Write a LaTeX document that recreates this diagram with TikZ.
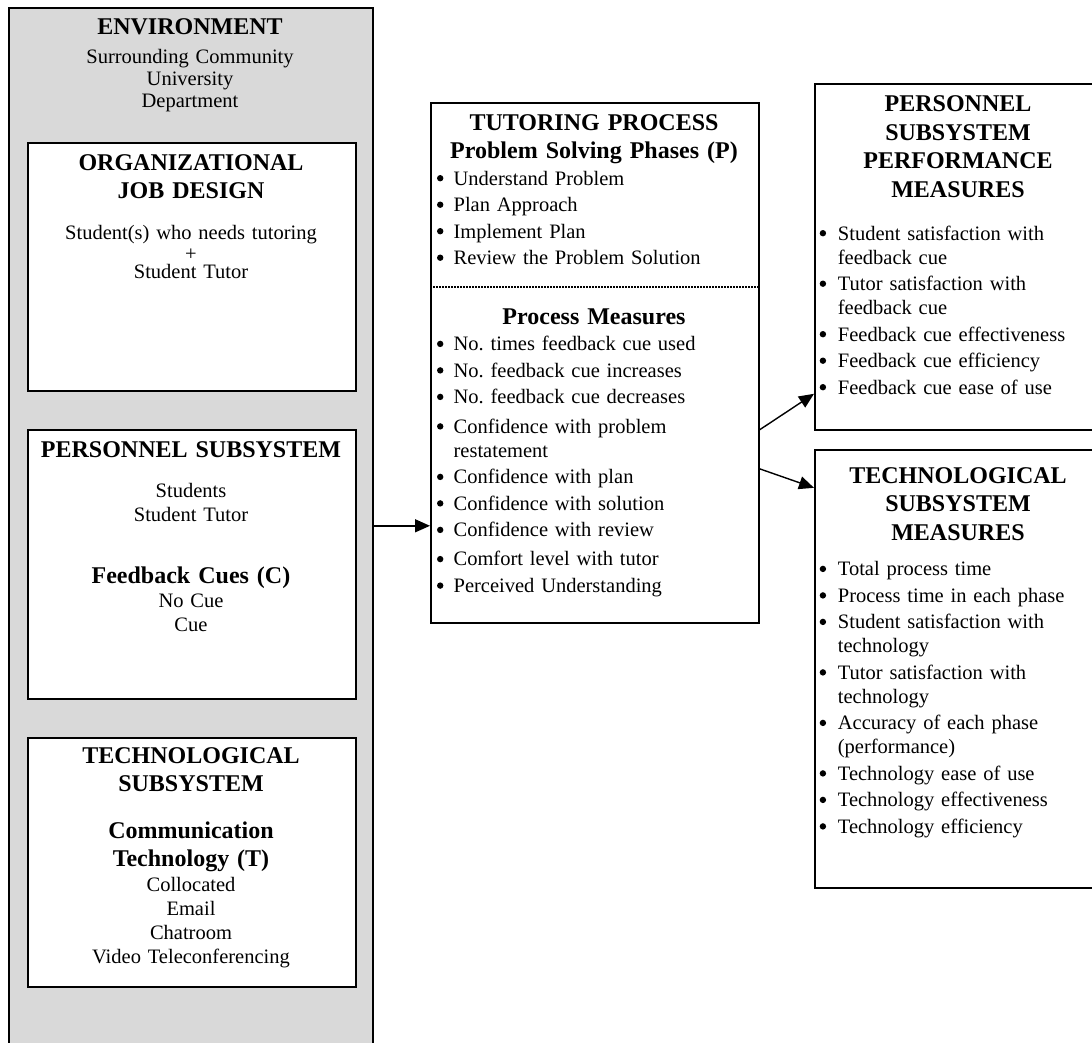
\documentclass[tikz,border=0pt]{standalone}
\usepackage{fontspec}
\setmainfont{Liberation Serif}
\usetikzlibrary{arrows.meta}

\definecolor{envgray}{RGB}{217,217,217}

% type sizes (1pt = one unit of the drawing grid)
\newcommand\bodyfont{\fontsize{20.5}{24}\selectfont}
\newcommand\envfont{\fontsize{20.5}{22}\selectfont}
\newcommand\tightfont{\fontsize{20.5}{19.5}\selectfont}
\newcommand\headfont{\fontsize{24}{28}\selectfont\bfseries}
\newcommand\tallhead{\fontsize{24}{28.6}\selectfont\bfseries}

% round bullet and bulleted item with hanging indent
\newcommand\bdot{\tikz[baseline=0pt]{\path (0pt,0pt); \fill (3.6pt,6.8pt) circle (3.2pt);}}
\newlength\bulind
\newcommand\bul[1]{\hangindent=\bulind\hangafter=1 \makebox[\bulind][l]{\bdot}#1\par}

\frenchspacing
\begin{document}
\begin{tikzpicture}[x=1pt,y=-1pt,
  panel/.style={draw, line width=1.6pt, fill=white, inner sep=0pt, anchor=north west},
  envpanel/.style={panel, fill=envgray},
  ctext/.style={anchor=base, inner sep=0pt, text width=#1, align=center},
  ctext/.default=320pt,
  blist/.style={anchor=base west, inner sep=0pt, text width=#1, align=left, font=\bodyfont},
  blist/.default=300pt,
  arr/.style={line width=1.4pt, -{Triangle[length=15pt,width=13pt]}},
  sep/.style={line width=1.5pt, dash pattern=on 1.5pt off 1.5pt}]

\useasboundingbox (0,0) rectangle (1092,1042);
\clip (0,0) rectangle (1092,1042);

% ---------- environment column ----------
\node[envpanel, minimum width=364pt, minimum height=1036pt] (env) at (8,7) {};
\node[ctext=340pt, font=\headfont] (envT) at (190,34) {ENVIRONMENT};
\node[ctext=340pt, font=\envfont] (envB) at (190,63) {Surrounding Community\\University\\Department};

% organizational job design
\node[panel, minimum width=328pt, minimum height=248pt] (org) at (27,142) {};
\node[ctext, font=\headfont] (orgT) at (191,170) {ORGANIZATIONAL\\JOB DESIGN};
\node[ctext, font=\tightfont] (orgB) at (191,239) {Student(s) who needs tutoring\\[1.5pt]+\\[-1.5pt]Student Tutor};

% personnel subsystem
\node[panel, minimum width=328pt, minimum height=269pt] (pers) at (27,429) {};
\node[ctext, font=\headfont] (persT) at (191,457) {PERSONNEL SUBSYSTEM};
\node[ctext, font=\bodyfont] (persB) at (191,497) {Students\\Student Tutor};
\node[ctext, font=\headfont] (persC) at (191,583) {Feedback Cues (C)};
\node[ctext, font=\bodyfont] (persD) at (191,607) {No Cue\\Cue};

% technological subsystem
\node[panel, minimum width=328pt, minimum height=249pt] (tech) at (27,737) {};
\node[ctext, font=\tallhead] (techT) at (191,763) {TECHNOLOGICAL\\SUBSYSTEM};
\node[ctext, font=\headfont] (techC) at (191,838) {Communication\\Technology (T)};
\node[ctext, font=\bodyfont] (techD) at (191,891) {Collocated\\Email\\Chatroom\\Video Teleconferencing};

% ---------- tutoring process ----------
\node[panel, minimum width=328pt, minimum height=520pt] (tut) at (430,102) {};
\node[ctext, font=\headfont] (tutT) at (594,130) {TUTORING PROCESS\\Problem Solving Phases (P)};
\node[blist] (tutL) at (436.4,185) {\setlength\bulind{17pt}\setlength\parskip{2.5pt}%
  \bul{Understand Problem}
  \bul{Plan Approach}
  \bul{Implement Plan}
  \bul{Review the Problem Solution}};
\draw[sep] ([yshift=76pt]tut.west) -- ([yshift=76pt]tut.east);
\node[ctext, font=\headfont] (tutM) at (594,324) {Process Measures};
\node[blist] (tutN) at (436.4,350.7) {\setlength\bulind{17pt}\setlength\parskip{2.5pt}%
  \bul{No. times feedback cue used}
  \bul{No. feedback cue increases}
  \bul{No. feedback cue decreases}
  \vspace{3pt}
  \bul{Confidence with problem\newline restatement}
  \bul{Confidence with plan}
  \bul{Confidence with solution}
  \bul{Confidence with review}
  \vspace{2.7pt}
  \bul{Comfort level with tutor}
  \bul{Perceived Understanding}};

% ---------- personnel subsystem performance measures ----------
\node[panel, minimum width=288pt, minimum height=346pt] (pm) at (814,83) {};
\node[ctext=280pt, font=\tallhead] (pmT) at (958,111.7) {PERSONNEL\\SUBSYSTEM\\PERFORMANCE\\MEASURES};
\node[blist=270pt] (pmL) at (819.1,240) {\setlength\bulind{18.6pt}\setlength\parskip{2.5pt}%
  \bul{Student satisfaction with\newline feedback cue}
  \bul{Tutor satisfaction with\newline feedback cue}
  \bul{Feedback cue effectiveness}
  \bul{Feedback cue efficiency}
  \bul{Feedback cue ease of use}};

% ---------- technological subsystem measures ----------
\node[panel, minimum width=288pt, minimum height=438pt] (tm) at (814,449) {};
\node[ctext=280pt, font=\tallhead] (tmT) at (958,483.3) {TECHNOLOGICAL\\SUBSYSTEM\\MEASURES};
\node[blist=270pt] (tmL) at (819.1,575.7) {\setlength\bulind{18.6pt}\setlength\parskip{2.5pt}%
  \bul{Total process time}
  \bul{Process time in each phase}
  \bul{Student satisfaction with\newline technology}
  \bul{Tutor satisfaction with\newline technology}
  \bul{Accuracy of each phase\newline (performance)}
  \bul{Technology ease of use}
  \bul{Technology effectiveness}
  \bul{Technology efficiency}};

% ---------- connectors ----------
\draw[arr] (env.east) -- (env.east -| tut.west);
\draw[arr] ([yshift=-67pt]tut.east) -- ([yshift=-137pt]pm.west);
\draw[arr] ([yshift=-106pt]tut.east) -- ([yshift=181pt]tm.west);
\end{tikzpicture}
\end{document}
